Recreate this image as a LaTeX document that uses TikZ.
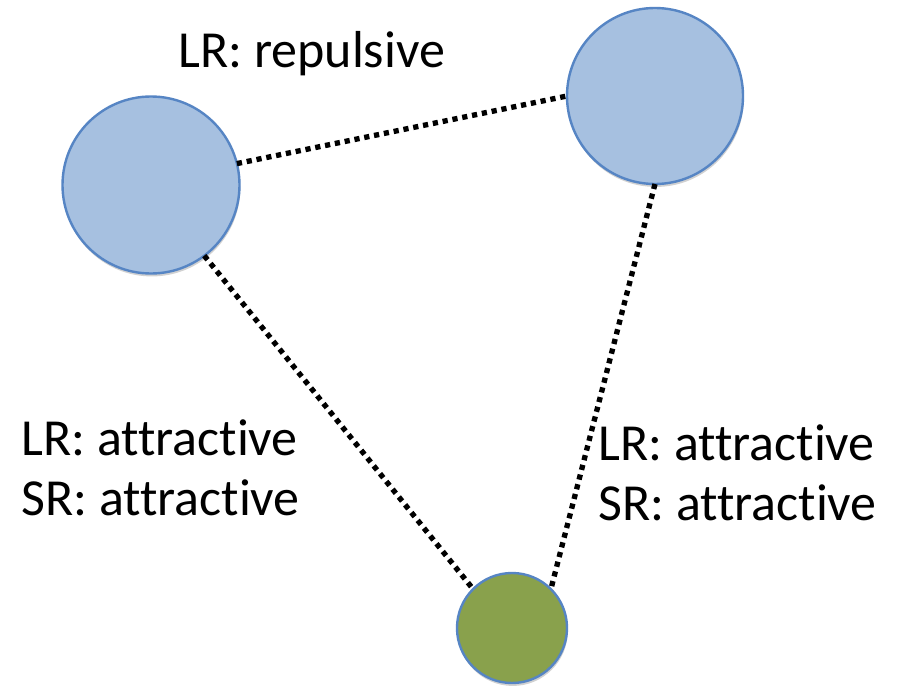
\documentclass[tikz,border=0pt]{standalone}
\usepackage{fontspec}
\setmainfont{Carlito}[RawFeature={-liga;-clig}]
\usetikzlibrary{shadows}
\definecolor{ballblue}{RGB}{166,192,224}
\definecolor{balledge}{RGB}{86,133,196}
\definecolor{ballgreen}{RGB}{137,161,76}
\tikzset{
  ball/.style={circle, draw=balledge, line width=1.8pt, inner sep=0pt, outer sep=0pt,
    drop shadow={shadow xshift=0.6pt, shadow yshift=-2.2pt, opacity=0.18, fill=black}},
  bond/.style={line width=4pt, dash pattern=on 3.9pt off 3.6pt, line cap=butt},
  lbl/.style={anchor=base west, inner sep=0pt, font=\fontsize{39}{47}\selectfont}
}
\begin{document}
\begin{tikzpicture}[x=0.75pt,y=-0.75pt]
\useasboundingbox[fill=white] (0,0) rectangle (898,688);
\node[ball, fill=ballblue, minimum size=132.75pt] (L) at (151,185) {};
\node[ball, fill=ballblue, minimum size=132pt] (R) at (655,96) {};
\node[ball, fill=ballgreen, minimum size=82.5pt] (G) at (512,628) {};
\draw[bond] (L.14) -- (R.180);
\draw[bond] (L.-53) -- (G.135);
\draw[bond] (R.-90) -- (G.45);
\node[lbl] (top) at (178,68) {LR: repulsive};
\node[lbl] (l1) at (21,455) {LR: attractive};
\node[lbl] (l2) at (21,515) {SR: attractive};
\node[lbl] (r1) at (598,460) {LR: attractive};
\node[lbl] (r2) at (598,520) {SR: attractive};
\end{tikzpicture}
\end{document}
